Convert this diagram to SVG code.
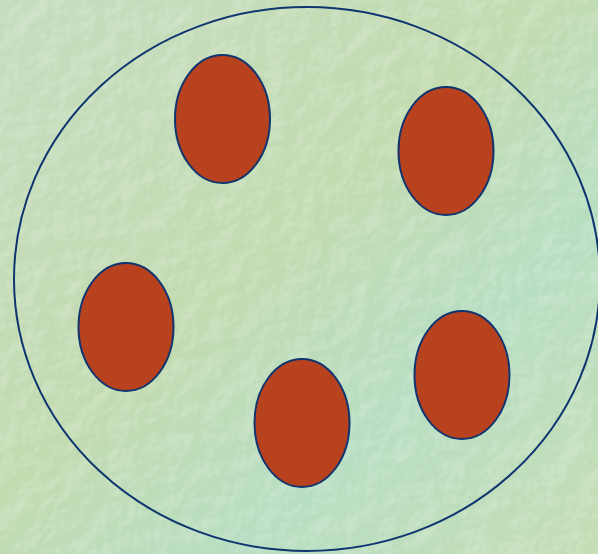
<svg xmlns="http://www.w3.org/2000/svg" width="598" height="554" viewBox="0 0 598 554">
<defs>
<linearGradient id="bg" x1="0" y1="0" x2="1" y2="1">
<stop offset="0" stop-color="#c6ddbf"/>
<stop offset="0.45" stop-color="#c2dbb0"/>
<stop offset="0.7" stop-color="#b7dec2"/>
<stop offset="1" stop-color="#c5ddb4"/>
</linearGradient>
<filter id="tex" x="0" y="0" width="100%" height="100%">
<feTurbulence type="fractalNoise" baseFrequency="0.04" numOctaves="3" seed="4" result="n"/>
<feDiffuseLighting in="n" surfaceScale="4" lighting-color="#ffffff" result="l">
<feDistantLight azimuth="225" elevation="50"/>
</feDiffuseLighting>
<feColorMatrix in="l" type="matrix" values="0 0 0 0 1  0 0 0 0 1  0 0 0 0 1  1.4 0 0 0 -0.95"/>
</filter>
<style>
.cell{fill:#b8411e;stroke:#0f3570;stroke-width:2}
.outer{fill:none;stroke:#0f3570;stroke-width:2}
</style>
</defs>
<rect width="598" height="554" fill="url(#bg)"/>
<rect width="598" height="554" filter="url(#tex)" opacity="0.5"/>
<ellipse class="outer" cx="307" cy="279" rx="293" ry="272"/>
<g id="cell1"><ellipse class="cell" cx="222.5" cy="119" rx="47.5" ry="64"/></g>
<g id="cell2"><ellipse class="cell" cx="446" cy="151" rx="47.5" ry="64"/></g>
<g id="cell3"><ellipse class="cell" cx="126" cy="327" rx="47.5" ry="64"/></g>
<g id="cell4"><ellipse class="cell" cx="302" cy="423" rx="47.5" ry="64"/></g>
<g id="cell5"><ellipse class="cell" cx="462" cy="375" rx="47.5" ry="64"/></g>
</svg>
